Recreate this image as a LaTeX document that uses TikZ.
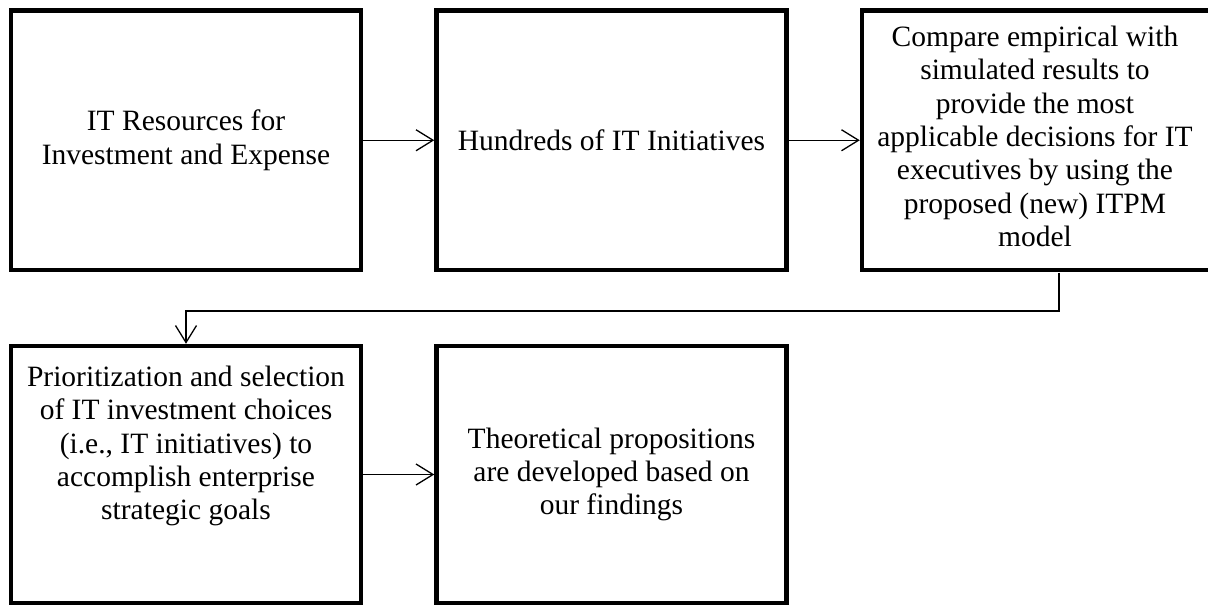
\documentclass[tikz,border=0pt]{standalone}
\usepackage{fontspec}
\setmainfont{Liberation Serif}
\usetikzlibrary{arrows.meta,positioning,calc}
\begin{document}
\begin{tikzpicture}[x=1pt,y=1pt,
  box/.style={draw=black, line width=4.5pt, fill=white, rectangle, inner sep=0pt,
    minimum width=350pt, minimum height=259.5pt, align=center,
    font=\fontsize{29.5}{33.4}\selectfont},
  txt/.style={align=center, inner sep=0pt, font=\fontsize{29.5}{33.4}\selectfont},
  arr/.style={line width=1.3pt, -{Straight Barb[length=17pt,width=21pt,line width=1.3pt]}}]
\useasboundingbox (0,0) rectangle (1208,-606);
\begin{scope}
\clip (0,0) rectangle (1208,-606);
\node[box] (b1) at (186,-140.25) {IT Resources for\\Investment and Expense};
\node[box] (b2) at (611.5,-140.25) {Hundreds of IT Initiatives};
\node[box, minimum width=352pt] (b3) at (1038,-140.25) {};
\node[txt] (b3t) at (1035,-136.5) {Compare empirical with\\simulated results to\\provide the most\\applicable decisions for IT\\executives by using the\\proposed (new) ITPM\\model};
\node[box, minimum height=257pt] (b4) at (186,-474.5) {};
\node[txt] (b4t) at (186,-446) {Prioritization and selection\\of IT investment choices\\(i.e., IT initiatives) to\\accomplish enterprise\\strategic goals};
\node[box, minimum height=257pt] (b5) at (611.5,-474.5) {Theoretical propositions\\are developed based on\\our findings};
\coordinate (c3) at (1059,-272.5);
\draw[arr] (b1.east) -- (b2.west);
\draw[arr] (b2.east) -- (b3.west);
\draw[arr] (c3) -- ++(0,-38.5) -| (b4.north);
\draw[arr] (b4.east) -- (b5.west);
\end{scope}
\end{tikzpicture}
\end{document}
